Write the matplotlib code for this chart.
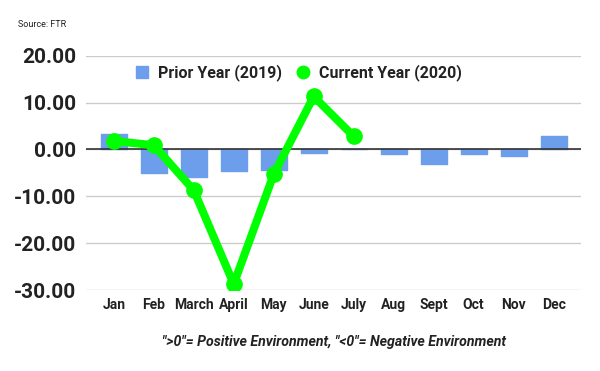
import matplotlib.pyplot as plt
from matplotlib.patches import Patch
from matplotlib.lines import Line2D
import numpy as np

plt.rcParams['font.family'] = ['Roboto', 'DejaVu Sans']

months = ['Jan', 'Feb', 'March', 'April', 'May', 'June', 'July', 'Aug', 'Sept', 'Oct', 'Nov', 'Dec']
prior_2019 = [3.2, -5.1, -5.8, -4.7, -4.3, -0.7, 0.2, -1.0, -3.0, -1.0, -1.4, 2.8]
current_2020 = [1.8, 0.9, -8.7, -28.7, -5.3, 11.3, 2.8]

text_color = '#222222'
bar_color = '#6d9eeb'
line_color = '#00ff00'

fig = plt.figure(figsize=(6, 3.71), dpi=100)
ax = fig.add_axes([0.143, 0.218, 0.825, 0.632])

x = np.arange(len(months))
ax.bar(x, prior_2019, width=0.65, color=bar_color, edgecolor=bar_color,
       linewidth=1, joinstyle='round', zorder=2)
ax.plot(x[:len(current_2020)], current_2020, color=line_color, linewidth=5.8,
        marker='o', markersize=11, solid_joinstyle='round', solid_capstyle='round',
        zorder=3)

ax.axhline(0, color='#333333', linewidth=1.2, zorder=2.5)
ax.set_ylim(-30, 20)
ax.set_xlim(-0.7, 11.68)
ax.set_yticks([20, 10, 0, -10, -20, -30])
ax.set_yticklabels([f'{v:.2f}' for v in [20, 10, 0, -10, -20, -30]])
ax.set_xticks(x)
ax.set_xticklabels(months)
ax.grid(axis='y', color='#cccccc', linewidth=1, zorder=0)
ax.set_axisbelow(True)
for s in ax.spines.values():
    s.set_visible(False)
ax.tick_params(length=0)
ax.tick_params(axis='y', labelsize=15, labelcolor=text_color, pad=7)
ax.tick_params(axis='x', labelsize=10, labelcolor=text_color, pad=6)
for lbl in ax.get_xticklabels() + ax.get_yticklabels():
    lbl.set_fontweight('bold')

handles = [
    Patch(facecolor=bar_color, edgecolor=bar_color, label='Prior Year (2019)'),
    Line2D([], [], linestyle='none', marker='o', markersize=9, color=line_color,
           label='Current Year (2020)'),
]
leg = ax.legend(handles=handles, loc='upper center', bbox_to_anchor=(0.43, 1.0), ncol=2,
                frameon=False, prop={'size': 11.5, 'weight': 'bold'}, handlelength=0.8,
                handleheight=0.8, handletextpad=0.6, columnspacing=0.9, borderaxespad=0.15)
for t in leg.get_texts():
    t.set_color(text_color)

fig.text(0.03, 0.933, 'Source: FTR', fontsize=6.5, color=text_color, va='center')
fig.text(0.557, 0.078, '">0"= Positive Environment, "<0"= Negative Environment',
         fontsize=10.2, style='italic', fontweight='bold', color=text_color, ha='center', va='center')

fig.savefig('out.png', dpi=100)
